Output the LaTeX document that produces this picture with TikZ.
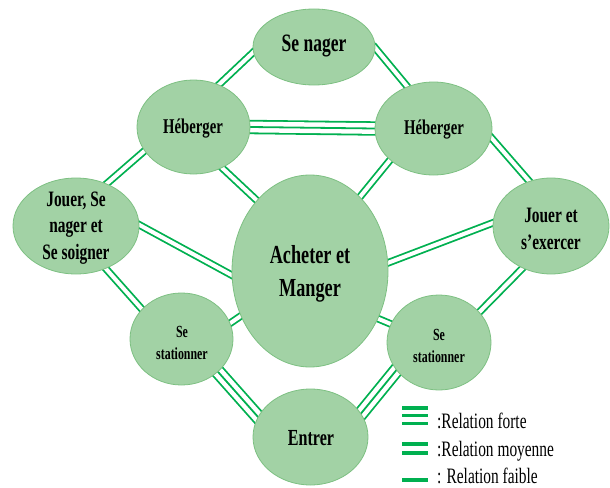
\documentclass[tikz,border=0pt]{standalone}
\usepackage{fontspec}
\setmainfont[FakeStretch=0.7]{Liberation Serif}
\usetikzlibrary{shapes.geometric,backgrounds}
\definecolor{lnk}{RGB}{0,176,80}
\definecolor{efill}{RGB}{162,210,165}
\definecolor{edraw}{RGB}{125,192,130}
\begin{document}
\begin{tikzpicture}[x=1pt,y=-1pt,
  bubble/.style={ellipse,draw=edraw,fill=efill,line width=0.8pt,inner sep=0pt},
  lbl/.style={align=center,inner sep=0pt,text=black},
  rel1/.style={draw=lnk,line width=1.8pt,shorten <=-4pt,shorten >=-4pt},
  rel2/.style={draw=lnk,line width=1.8pt,double=white,double distance=4pt,shorten <=-4pt,shorten >=-4pt},
  rel3/.style={draw=lnk,line width=1.8pt,double=white,double distance=10.8pt,shorten <=-4pt,shorten >=-4pt},
  legbar/.style={draw=lnk,line width=3.2pt},
  legtxt/.style={anchor=base west,inner sep=0pt,text=black,font=\fontsize{22}{26}\selectfont}]
\useasboundingbox (0,0) rectangle (610,487);

% ellipses
\node[bubble,minimum width=122pt,minimum height=76pt] (SN) at (314,47) {};
\node[bubble,minimum width=113pt,minimum height=94pt] (HL) at (193.5,127) {};
\node[bubble,minimum width=117pt,minimum height=93pt] (HR) at (433.5,128.5) {};
\node[bubble,minimum width=126pt,minimum height=96pt] (JSN) at (76,226) {};
\node[bubble,minimum width=156pt,minimum height=192pt] (ACH) at (310,271) {};
\node[bubble,minimum width=116pt,minimum height=96pt] (JE) at (551,226) {};
\node[bubble,minimum width=103pt,minimum height=92pt] (SSL) at (181.5,339) {};
\node[bubble,minimum width=104pt,minimum height=95pt] (SSR) at (439,342.5) {};
\node[bubble,minimum width=115pt,minimum height=96pt] (EN) at (310.5,437) {};

% texts
\node[lbl,font=\bfseries\fontsize{25}{30}\selectfont] (tSN) at (314,46) {Se nager};
\node[lbl,font=\bfseries\fontsize{21}{25}\selectfont] (tHL) at (193,129) {Héberger};
\node[lbl,font=\bfseries\fontsize{21}{25}\selectfont] (tHR) at (434,130) {Héberger};
\node[lbl,font=\bfseries\fontsize{22}{26.5}\selectfont] (tJSN) at (76,228) {Jouer, Se\\nager et\\Se soigner};
\node[lbl,font=\bfseries\fontsize{26}{33}\selectfont] (tACH) at (310,274) {Acheter et\\Manger};
\node[lbl,font=\bfseries\fontsize{22}{27}\selectfont] (tJE) at (551,229) {Jouer et\\s’exercer};
\node[lbl,font=\bfseries\fontsize{17}{22}\selectfont] (tSSL) at (182,343) {Se\\stationner};
\node[lbl,font=\bfseries\fontsize{17}{22}\selectfont] (tSSR) at (439,346) {Se\\stationner};
\node[lbl,font=\bfseries\fontsize{23}{27}\selectfont] (tEN) at (311,438) {Entrer};

% connectors
\begin{scope}[on background layer]
\draw[rel2] (SN.185) -- (HL.59);
\draw[rel2] (SN.-1) -- (HR.122);
\draw[rel3] (HL.0) -- (HR.180);
\draw[rel1] (HL.0) -- (HR.180);
\draw[rel2] (HL.206) -- (JSN.54);
\draw[rel2] (HL.-55) -- (ACH.127);
\draw[rel2] (HR.216) -- (ACH.56);
\draw[rel2] (HR.-9) -- (JE.116);
\draw[rel2] (JSN.1) -- (ACH.183);
\draw[rel2] (JSN.-55) -- (SSL.143);
\draw[rel2] (ACH.6) -- (JE.177);
\draw[rel2] (JE.236) -- (SSR.37);
\draw[rel2] (ACH.213) -- (SSL.18);
\draw[rel2] (ACH.-35) -- (SSR.159);
\draw[rel3] (SSL.-42) -- (EN.159);
\draw[rel1] (SSL.-42) -- (EN.159);
\draw[rel3] (EN.25) -- (SSR.213);
\draw[rel1] (EN.25) -- (SSR.213);
\end{scope}

% legend
\coordinate (L1) at (402,408);
\draw[legbar] (L1) -- ++(26,0) (402,415.5) -- ++(26,0) (402,423.5) -- ++(26,0);
\draw[legbar] (402,444) -- ++(26,0) (402,453) -- ++(26,0);
\draw[legbar] (402,480) -- ++(26,0);
\node[legtxt] (g1) at (437,428) {:Relation forte};
\node[legtxt] (g2) at (437,456) {:Relation moyenne};
\node[legtxt] (g3) at (437,483) {: Relation faible};
\end{tikzpicture}
\end{document}
